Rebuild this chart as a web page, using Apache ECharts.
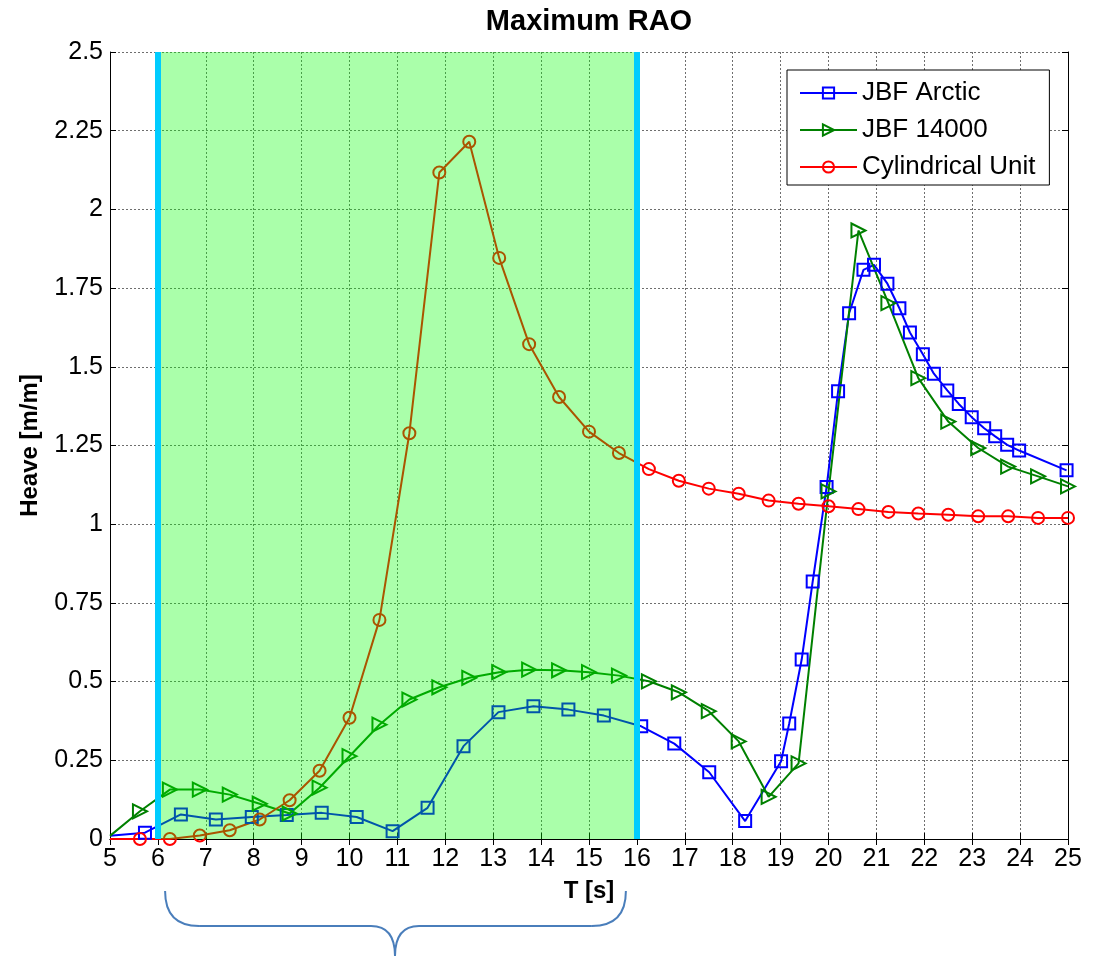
<!DOCTYPE html>
<html>
<head>
<meta charset="utf-8">
<script src="https://cdn.jsdelivr.net/npm/echarts@6/dist/echarts.min.js"></script>
<style>
html,body{margin:0;padding:0;background:#fff;}
#chart{width:1094px;height:963px;}
</style>
</head>
<body>
<div id="chart"></div>
<script>
// ---- data ----
const tArctic = [5, 5.73, 6.48, 7.21, 7.96, 8.69, 9.42, 10.15, 10.90, 11.63, 12.38, 13.11, 13.84, 14.57, 15.31, 16.09, 16.78, 17.51, 18.26, 19.01, 19.18, 19.44, 19.67, 19.96, 20.20, 20.43, 20.73, 20.95, 21.23, 21.48, 21.70, 21.97, 22.20, 22.48, 22.72, 22.99, 23.25, 23.48, 23.73, 23.98, 24.97];
const heaveArctic = [0.01, 0.02, 0.078, 0.062, 0.070, 0.076, 0.083, 0.070, 0.025, 0.099, 0.295, 0.403, 0.422, 0.411, 0.392, 0.358, 0.303, 0.212, 0.057, 0.247, 0.367, 0.570, 0.818, 1.118, 1.422, 1.670, 1.808, 1.824, 1.764, 1.686, 1.609, 1.540, 1.478, 1.425, 1.382, 1.340, 1.305, 1.279, 1.252, 1.234, 1.171];

const tJBF14000 = [5, 5.625, 6.25, 6.875, 7.5, 8.125, 8.75, 9.375, 10.0, 10.625, 11.25, 11.875, 12.5, 13.125, 13.75, 14.375, 15.0, 15.625, 16.25, 16.875, 17.5, 18.125, 18.75, 19.375, 20.0, 20.625, 21.25, 21.875, 22.5, 23.125, 23.75, 24.375, 25.0];
const heaveJBF14000 = [0.01, 0.088, 0.157, 0.157, 0.141, 0.112, 0.081, 0.163, 0.263, 0.363, 0.443, 0.482, 0.512, 0.530, 0.538, 0.536, 0.530, 0.519, 0.501, 0.466, 0.406, 0.310, 0.134, 0.240, 1.104, 1.933, 1.702, 1.464, 1.326, 1.242, 1.183, 1.152, 1.120];

const tCylinder = [5, 5.625, 6.25, 6.875, 7.5, 8.125, 8.75, 9.375, 10.0, 10.625, 11.25, 11.875, 12.5, 13.125, 13.75, 14.375, 15.0, 15.625, 16.25, 16.875, 17.5, 18.125, 18.75, 19.375, 20.0, 20.625, 21.25, 21.875, 22.5, 23.125, 23.75, 24.375, 25.0];
const heaveCylinder = [0.0, 0.0, 0.0, 0.011, 0.028, 0.062, 0.123, 0.217, 0.385, 0.696, 1.289, 2.117, 2.215, 1.846, 1.572, 1.404, 1.294, 1.226, 1.175, 1.138, 1.113, 1.097, 1.075, 1.065, 1.057, 1.048, 1.039, 1.034, 1.030, 1.025, 1.025, 1.020, 1.020];

const seriesNames = ['JBF Arctic', 'JBF 14000', 'Cylindrical Unit'];
const bandRange = [6, 16];          // shaded period band
const braceRange = [6.15, 15.77, 10.95]; // start, end, tip
const xRange = [5, 25, 1];
const yRange = [0, 2.5, 0.25];
const titleText = 'Maximum RAO';
const xName = 'T [s]';
const yName = 'Heave [m/m]';
// --------------------------------------

const FONT = 'Liberation Sans, Arial, Helvetica, sans-serif';

function pts(xs, ys) {
  return xs.map((x, i) => i === 0 ? { value: [x, ys[i]], symbol: 'none' } : [x, ys[i]]);
}

const gridLine = { show: true, lineStyle: { color: '#6e6e6e', width: 1, type: [2, 2] } };

const chart = echarts.init(document.getElementById('chart'), null, { renderer: 'canvas' });

function lineSeries(name, xs, ys, color, symbol, size, rotate) {
  return {
    name: name, type: 'line', data: pts(xs, ys),
    xAxisIndex: 0, yAxisIndex: 0, z: 2,
    symbol: symbol, symbolSize: size, symbolRotate: rotate || 0,
    showAllSymbol: true,
    lineStyle: { color: color, width: 2 },
    itemStyle: { color: 'rgba(0,0,0,0)', borderColor: color, borderWidth: 2 },
    emphasis: { disabled: true },
    animation: false
  };
}

const option = {
  animation: false,
  backgroundColor: '#fff',
  textStyle: { fontFamily: FONT },
  grid: { left: 110, right: 26, top: 52, bottom: 124, containLabel: false },
  legend: {
    orient: 'vertical', left: 787, top: 70,
    padding: [10, 14, 5, 12],
    itemWidth: 57, itemHeight: 14, itemGap: 11,
    backgroundColor: '#fff', borderColor: '#000', borderWidth: 1,
    textStyle: { fontSize: 26, color: '#000', fontFamily: FONT, lineHeight: 25 },
    data: seriesNames
  },
  xAxis: [
    {
      type: 'value', position: 'bottom', min: xRange[0], max: xRange[1], interval: xRange[2],
      axisLine: { show: true, lineStyle: { color: '#000', width: 1 } },
      axisTick: { show: true, inside: true, length: 6, lineStyle: { color: '#000' } },
      axisLabel: { fontSize: 25, color: '#000', margin: 8, fontFamily: FONT },
      splitLine: gridLine,
      name: xName, nameLocation: 'middle', nameGap: 40,
      nameTextStyle: { fontSize: 24, fontWeight: 'bold', color: '#000', fontFamily: FONT }
    },
    {
      type: 'value', position: 'top', min: xRange[0], max: xRange[1], interval: xRange[2],
      axisLine: { show: true, lineStyle: { color: '#000', width: 1 } },
      axisTick: { show: true, inside: true, length: 6, lineStyle: { color: '#000' } },
      axisLabel: { show: false }, splitLine: { show: false },
      name: titleText, nameLocation: 'middle', nameGap: 16,
      nameTextStyle: { fontSize: 29, fontWeight: 'bold', color: '#000', fontFamily: FONT }
    }
  ],
  yAxis: [
    {
      type: 'value', position: 'left', min: yRange[0], max: yRange[1], interval: yRange[2],
      axisLine: { show: true, lineStyle: { color: '#000', width: 1 } },
      axisTick: { show: true, inside: true, length: 6, lineStyle: { color: '#000' } },
      axisLabel: { fontSize: 25, color: '#000', margin: 7, fontFamily: FONT },
      splitLine: gridLine,
      name: yName, nameLocation: 'middle', nameGap: 68, nameRotate: 90,
      nameTextStyle: { fontSize: 24, fontWeight: 'bold', color: '#000', fontFamily: FONT }
    },
    {
      type: 'value', position: 'right', min: yRange[0], max: yRange[1], interval: yRange[2],
      axisLine: { show: true, lineStyle: { color: '#000', width: 1 } },
      axisTick: { show: true, inside: true, length: 6, lineStyle: { color: '#000' } },
      axisLabel: { show: false }, splitLine: { show: false }
    }
  ],
  series: [
    lineSeries(seriesNames[0], tArctic, heaveArctic, '#0000ff', 'rect', 12),
    lineSeries(seriesNames[1], tJBF14000, heaveJBF14000, '#008000', 'triangle', 14, -90),
    lineSeries(seriesNames[2], tCylinder, heaveCylinder, '#ff0000', 'circle', 12),
    {
      name: 'band', type: 'line', data: [], xAxisIndex: 0, yAxisIndex: 0, z: 10,
      silent: true,
      markArea: {
        silent: true, z: 10,
        itemStyle: { color: 'rgba(0,255,0,0.333)' },
        label: { show: false },
        data: [[{ xAxis: bandRange[0] }, { xAxis: bandRange[1] }]]
      },
      markLine: {
        silent: true, z: 11, symbol: 'none', animation: false,
        label: { show: false },
        lineStyle: { color: '#00ccff', width: 6, type: 'solid' },
        data: [{ xAxis: bandRange[0] }, { xAxis: bandRange[1] }]
      }
    }
  ]
};

chart.setOption(option);

// brace annotation under the x axis, positioned from the axis scale
const y0 = chart.convertToPixel({ yAxisIndex: 0 }, 0);
const L = chart.convertToPixel({ xAxisIndex: 0 }, braceRange[0]);
const R = chart.convertToPixel({ xAxisIndex: 0 }, braceRange[1]);
const M = chart.convertToPixel({ xAxisIndex: 0 }, braceRange[2]);
const yt = y0 + 52, yh = y0 + 87, yb = y0 + 117;
const re = 34, rm = 24;
const bs = { stroke: '#4a7ebb', lineWidth: 2, fill: null };
chart.setOption({
  graphic: [
    { type: 'bezierCurve', silent: true, shape: { x1: L, y1: yt, x2: L + re, y2: yh, cpx1: L, cpy1: yh }, style: bs },
    { type: 'line', silent: true, shape: { x1: L + re, y1: yh, x2: M - rm, y2: yh }, style: bs },
    { type: 'bezierCurve', silent: true, shape: { x1: M - rm, y1: yh, x2: M, y2: yb, cpx1: M, cpy1: yh }, style: bs },
    { type: 'bezierCurve', silent: true, shape: { x1: M, y1: yb, x2: M + rm, y2: yh, cpx1: M, cpy1: yh }, style: bs },
    { type: 'line', silent: true, shape: { x1: M + rm, y1: yh, x2: R - re, y2: yh }, style: bs },
    { type: 'bezierCurve', silent: true, shape: { x1: R - re, y1: yh, x2: R, y2: yt, cpx1: R, cpy1: yh }, style: bs }
  ]
});
</script>
</body>
</html>
